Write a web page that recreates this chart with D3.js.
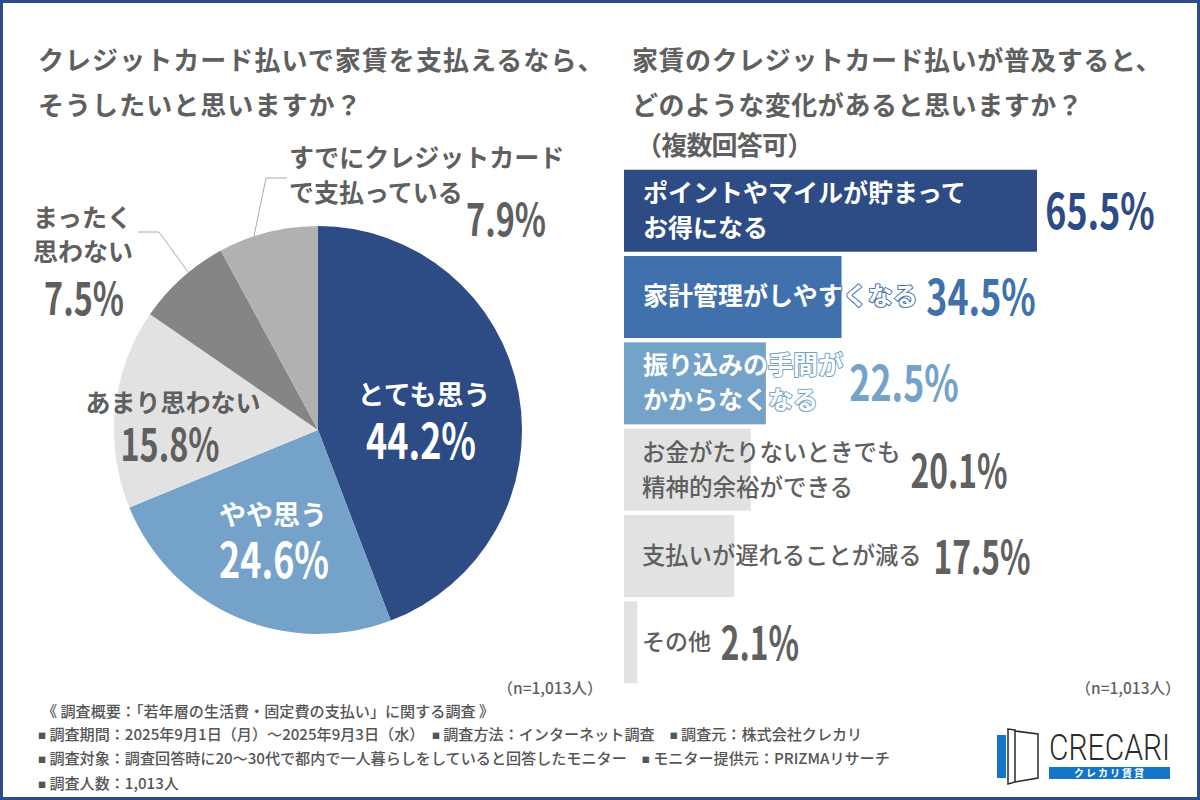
<!DOCTYPE html>
<html lang="ja">
<head>
  <meta charset="UTF-8">
  <title>クレジットカード払いで家賃を支払う調査</title>
  <script src="https://cdn.jsdelivr.net/npm/d3@7"></script>
  <style>
    html, body { margin: 0; padding: 0; background: #fff; }
    svg { display: block; }
    text { font-family: "Noto Sans CJK JP", sans-serif; }
    .num { font-family: "Noto Sans CJK JP", sans-serif; font-weight: 700; }
  </style>
</head>
<body>
<svg id="chart" width="1200" height="800"></svg>
<script>
// pie: left question
var pieLabels = ["とても思う", "やや思う", "あまり思わない", "まったく思わない", "すでにクレジットカードで支払っている"];
var pieValues = [44.2, 24.6, 15.8, 7.5, 7.9];
var pieColors = ["#2d4b84", "#74a2c9", "#e2e2e2", "#858585", "#b1b1b1"];

// bars: right question
var barLabels = [
  ["ポイントやマイルが貯まって", "お得になる"],
  ["家計管理がしやすくなる"],
  ["振り込みの手間が", "かからなくなる"],
  ["お金がたりないときでも", "精神的余裕ができる"],
  ["支払いが遅れることが減る"],
  ["その他"]
];
var barValues = [65.5, 34.5, 22.5, 20.1, 17.5, 2.1];
var barColors = ["#2d4b84", "#4071ad", "#74a2c9", "#e2e2e2", "#e2e2e2", "#e2e2e2"];
var barNumColors = ["#2d4b84", "#4071ad", "#74a2c9", "#606060", "#606060", "#606060"];

var footLines = [
  "《 調査概要：「若年層の生活費・固定費の支払い」に関する調査 》",
  "■ 調査期間：2025年9月1日（月）～2025年9月3日（水）　■ 調査方法：インターネット調査　■ 調査元：株式会社クレカリ",
  "■ 調査対象：調査回答時に20～30代で都内で一人暮らしをしていると回答したモニター　■ モニター提供元：PRIZMAリサーチ",
  "■ 調査人数：1,013人"
];

var svg = d3.select("#chart");
var grayText = "#5f5f5f";

// frame
svg.append("rect").attr("x", 1.5).attr("y", 1.5).attr("width", 1197).attr("height", 797)
  .attr("fill", "#fff").attr("stroke", "#2d4b84").attr("stroke-width", 3);

function addText(x, y, str, size, color, weight, anchor) {
  return svg.append("text").attr("x", x).attr("y", y).text(str)
    .attr("font-size", size).attr("fill", color)
    .attr("font-weight", weight || 700)
    .attr("text-anchor", anchor || "start");
}

// narrower digits, like the DIN style figures
function addNum(x, y, str, size, color, sx) {
  var g = svg.append("g").attr("transform", "translate(" + x + "," + y + ") scale(" + sx + ",1)");
  g.append("text").attr("class", "num").text(str)
    .attr("font-size", size).attr("fill", color)
    .attr("text-anchor", "middle");
}

// titles
addText(38, 70, "クレジットカード払いで家賃を支払えるなら、", 26, grayText).attr("letter-spacing", 1.05);
addText(38, 115, "そうしたいと思いますか？", 26, grayText).attr("letter-spacing", 1.05);
addText(632, 70, "家賃のクレジットカード払いが普及すると、", 26, grayText).attr("letter-spacing", 0.55);
addText(632, 115, "どのような変化があると思いますか？", 26, grayText).attr("letter-spacing", 0.55);
addText(636, 155, "（複数回答可）", 26, grayText).attr("letter-spacing", -0.8);

// pie
var pieGen = d3.pie().sort(null).value(function (d) { return d; });
var arcGen = d3.arc().innerRadius(0).outerRadius(204);
svg.append("g").attr("transform", "translate(318,430)")
  .selectAll("path").data(pieGen(pieValues)).enter().append("path")
  .attr("d", arcGen)
  .attr("fill", function (d, i) { return pieColors[i]; });

addText(424, 405, pieLabels[0], 27, "#fff", 700, "middle");
addNum(421, 459, pieValues[0] + "%", 48, "#fff", 0.75);
addText(273, 525, pieLabels[1], 27, "#fff", 700, "middle");
addNum(274, 578, pieValues[1] + "%", 48, "#fff", 0.75);
addText(173, 412, pieLabels[2], 25, grayText, 700, "middle");
addNum(170, 461, pieValues[2] + "%", 45, grayText, 0.72);
addText(33, 227, "まったく", 25, grayText);
addText(33, 261, "思わない", 25, grayText);
addNum(84, 315, pieValues[3] + "%", 45, grayText, 0.72);
addText(289, 167, "すでにクレジットカード", 25, grayText);
addText(289, 202, "で支払っている", 25, grayText);
addNum(506, 236, pieValues[4] + "%", 45, grayText, 0.72);

// leader lines
var leader = d3.line();
svg.append("path").attr("d", leader([[138, 232], [159, 232], [188, 272]])).attr("stroke", "#aaa").attr("stroke-width", 1).attr("fill", "none");
svg.append("path").attr("d", leader([[287, 178], [266, 178], [254, 236]])).attr("stroke", "#aaa").attr("stroke-width", 1).attr("fill", "none");

// bars
var xScale = d3.scaleLinear().domain([0, 65.5]).range([624, 1037]);
var yScale = d3.scaleBand().domain(d3.range(barValues.length)).range([168, 685]).paddingInner(0.05).paddingOuter(0.02);

svg.append("g").selectAll("rect").data(barValues).enter().append("rect")
  .attr("x", xScale(0))
  .attr("y", function (d, i) { return yScale(i); })
  .attr("width", function (d) { return xScale(d) - xScale(0); })
  .attr("height", yScale.bandwidth())
  .attr("fill", function (d, i) { return barColors[i]; });

var numX = [1100, 981, 904, 959, 982, 760];
var labelSize = [25, 25, 25, 23.5, 23.3, 23];
barValues.forEach(function (v, i) {
  var cy = yScale(i) + yScale.bandwidth() / 2;
  var lines = barLabels[i];
  lines.forEach(function (s, k) {
    var y = lines.length === 1 ? cy + 8 : cy + (k === 0 ? -9 : 26);
    var t = addText(i < 3 ? 643 : 642, y, s, labelSize[i], i < 3 ? "#fff" : grayText, i < 3 ? 700 : 500);
    if (i === 1 || i === 2) {
      t.attr("stroke", barColors[i]).attr("stroke-width", 2).attr("paint-order", "stroke").attr("stroke-linejoin", "round");
    }
  });
  if (i < 3) addNum(numX[i], cy + 18, v + "%", 48, barNumColors[i], 0.745);
  else addNum(numX[i], cy + 18, v + "%", 46, barNumColors[i], 0.69);
});

// sample size notes
addText(550, 694, "（n=1,013人）", 15.5, grayText, 500, "middle");
addText(1128, 694, "（n=1,013人）", 15.5, grayText, 500, "middle");

// footer, small square bullets
var footY = [717, 740, 764, 789];
footLines.forEach(function (s, i) {
  var t = addText(i === 0 ? 42 : 38, footY[i], "", 15.1, "#555", 500);
  s.split("■").forEach(function (part, k) {
    if (k > 0) t.append("tspan").attr("font-size", 8).attr("dy", -1).text("■");
    t.append("tspan").attr("dy", k > 0 ? 1 : 0).text(part);
  });
});

// logo
svg.append("rect").attr("x", 997).attr("y", 735).attr("width", 9).attr("height", 43).attr("fill", "#1576c8");
svg.append("path").attr("d", "M1008 729 L1008 784 L1015 782 L1015 730 Z M1015 731 L1038 734 L1038 778 L1015 782")
  .attr("fill", "#fff").attr("stroke", "#2a2a2a").attr("stroke-width", 1.5);
addText(1049, 760, "CRECARI", 36.5, "#2a2a2a", 300).style("font-family", "Roboto").attr("textLength", 121).attr("lengthAdjust", "spacingAndGlyphs");
svg.append("rect").attr("x", 1049).attr("y", 767).attr("width", 121).attr("height", 12).attr("fill", "#1576c8");
addText(1110, 777, "クレカリ賃貸", 10, "#fff", 700, "middle").attr("letter-spacing", 2);
</script>
</body>
</html>
